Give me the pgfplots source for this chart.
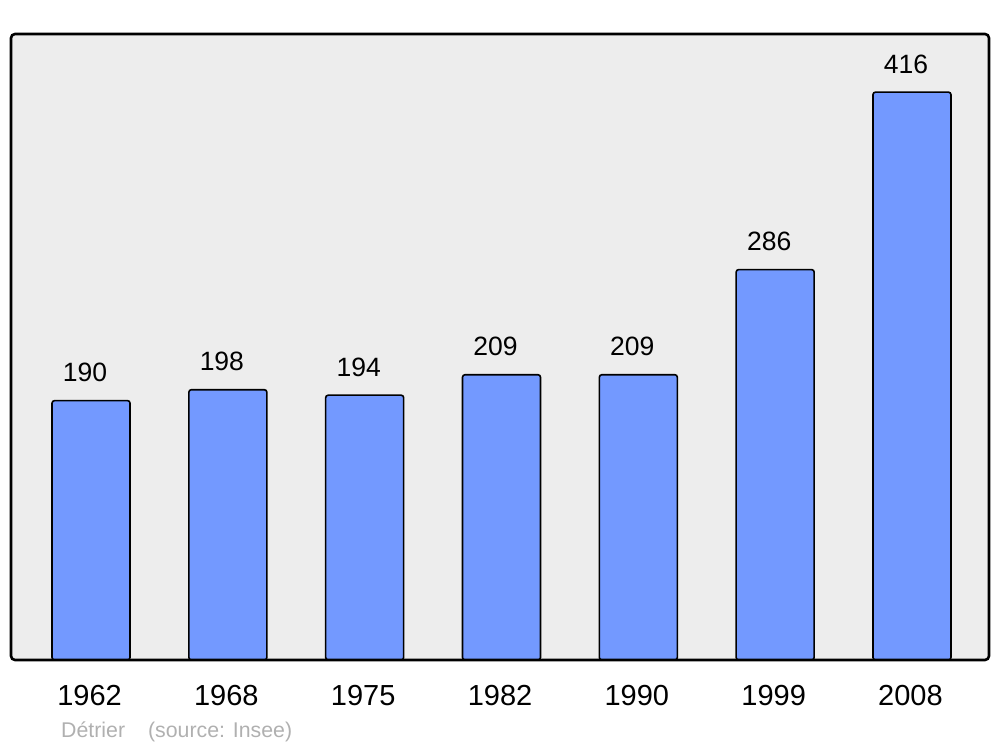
\documentclass[border=0pt]{standalone}
\usepackage{pgfplots}
\pgfplotsset{compat=1.18}
\usepackage{fontspec}
\setmainfont{Liberation Sans}
\definecolor{bg}{RGB}{237,237,237}
\definecolor{barc}{RGB}{115,153,255}
\definecolor{foot}{RGB}{176,176,176}
\begin{document}
\begin{tikzpicture}
\path[use as bounding box] (0,0) rectangle (1000pt,747pt);
\begin{axis}[
  at={(11pt,87pt)}, anchor=south west,
  scale only axis, width=978pt, height=626pt,
  xmin=-0.585, xmax=6.563, ymin=0, ymax=458.6,
  axis line style={draw=none},
  axis background/.style={fill=bg, rounded corners=4pt},
  clip=false,
  ytick=\empty,
  xtick={0,1,2,3,4,5,6},
  xticklabels={1962,1968,1975,1982,1990,1999,2008},
  xtick style={draw=none},
  xticklabel style={anchor=center, yshift=-31pt, xshift=-1.5pt, font=\fontsize{29}{32}\selectfont},
  /pgf/number format/assume math mode=true,
  ybar, bar width=0.57,
  nodes near coords,
  every node near coord/.append style={anchor=center, yshift=28pt, xshift=-6pt, font=\fontsize{26.5}{29}\selectfont, text=black},
]
\addplot[draw=black, line width=1.6pt, fill=barc, rounded corners=2.5pt] coordinates {
  (0,190) (1,198) (2,194) (3,209) (4,209) (5,286) (6,416)};
\draw[line width=2.6pt, rounded corners=4pt] (rel axis cs:0,0) rectangle (rel axis cs:1,1);
\end{axis}
\node[anchor=base west, inner sep=0, text=foot, font=\fontsize{21.3}{24}\selectfont] at (61pt,10pt) {Détrier\hspace{23pt}(source: Insee)};
\end{tikzpicture}
\end{document}
